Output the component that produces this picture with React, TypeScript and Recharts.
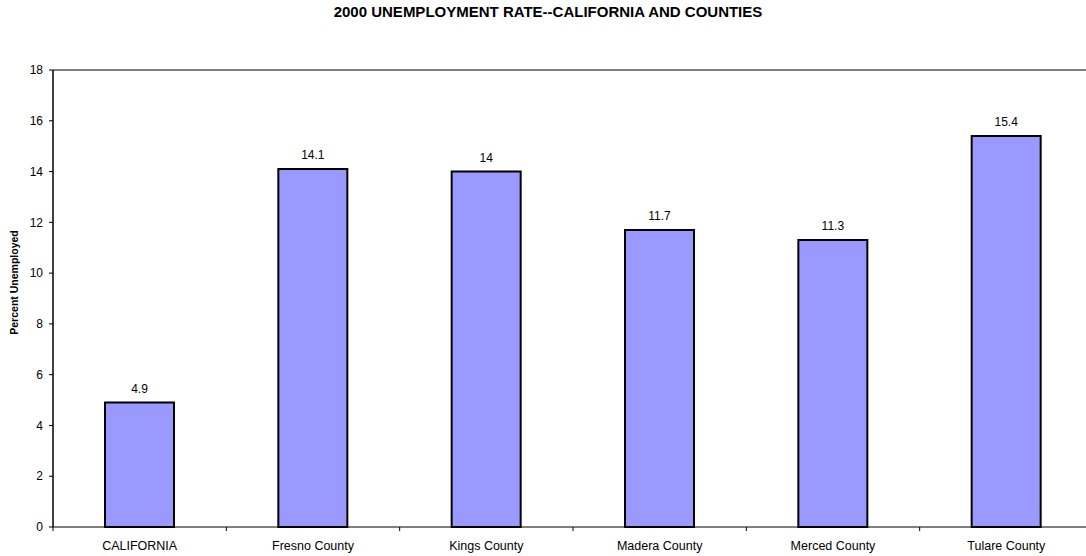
import React from 'react'
import { BarChart, Bar, XAxis, YAxis, LabelList, ReferenceLine } from 'recharts'

const categories = ['CALIFORNIA', 'Fresno County', 'Kings County', 'Madera County', 'Merced County', 'Tulare County']
const rates = [4.9, 14.1, 14, 11.7, 11.3, 15.4]
const yTicks = [0, 2, 4, 6, 8, 10, 12, 14, 16, 18]

const data = categories.map((name, i) => ({ name, rate: rates[i] }))

const font = '"Liberation Sans", Arial, sans-serif'

function CatTick(props: any) {
  const { x, y, payload, index, visibleTicksCount } = props
  const off = payload.offset || 0
  const last = index === visibleTicksCount - 1
  return (
    <g>
      <line x1={x - off} x2={x - off} y1={y} y2={y + 4} stroke="#000" />
      {last && <line x1={x + off} x2={x + off} y1={y} y2={y + 4} stroke="#000" />}
      <text x={x} y={y + 23} textAnchor="middle" fontSize={12.5} fill="#000" fontFamily={font}>
        {payload.value}
      </text>
    </g>
  )
}

function YTitle(props: any) {
  const vb = props.viewBox || { x: 0, y: 0, height: 0 }
  const cx = 18
  const cy = vb.y + vb.height / 2 - 16
  return (
    <text
      x={cx}
      y={cy}
      transform={`rotate(-90, ${cx}, ${cy})`}
      textAnchor="middle"
      fontSize={10.5}
      fontWeight="bold"
      fill="#000"
      fontFamily={font}
    >
      Percent Unemployed
    </text>
  )
}

export default function App() {
  return (
    <div style={{ position: 'absolute', left: 0, top: 0, width: 1086, height: 556, overflow: 'hidden', background: '#fff' }}>
      <div
        style={{
          position: 'absolute', top: 3, left: 0, width: 1096, textAlign: 'center',
          fontFamily: font, fontWeight: 'bold', fontSize: 15, color: '#000',
        }}
      >
        2000 UNEMPLOYMENT RATE--CALIFORNIA AND COUNTIES
      </div>
      <BarChart
        width={1094}
        height={556}
        data={data}
        margin={{ top: 70, right: 1, bottom: 0, left: 0 }}
        barCategoryGap="30%"
      >
        <XAxis
          dataKey="name"
          height={29}
          tickSize={0}
          tickMargin={0}
          axisLine={{ stroke: '#000' }}
          tickLine={false}
          tick={<CatTick />}
          interval={0}
        />
        <YAxis
          width={53}
          domain={[0, 18]}
          ticks={yTicks}
          interval={0}
          tickSize={4}
          tickMargin={6}
          axisLine={{ stroke: '#000', strokeWidth: 1.5 }}
          tickLine={{ stroke: '#000' }}
          tick={{ fontSize: 12, fill: '#000', fontFamily: font }}
          label={{ content: <YTitle /> }}
        />
        <ReferenceLine y={18} stroke="#808080" strokeWidth={2} />
        <Bar dataKey="rate" fill="#9999FF" stroke="#000" strokeWidth={2} isAnimationActive={false}>
          <LabelList dataKey="rate" position="top" offset={10} fontSize={12} fill="#000" fontFamily={font} />
        </Bar>
      </BarChart>
    </div>
  )
}
